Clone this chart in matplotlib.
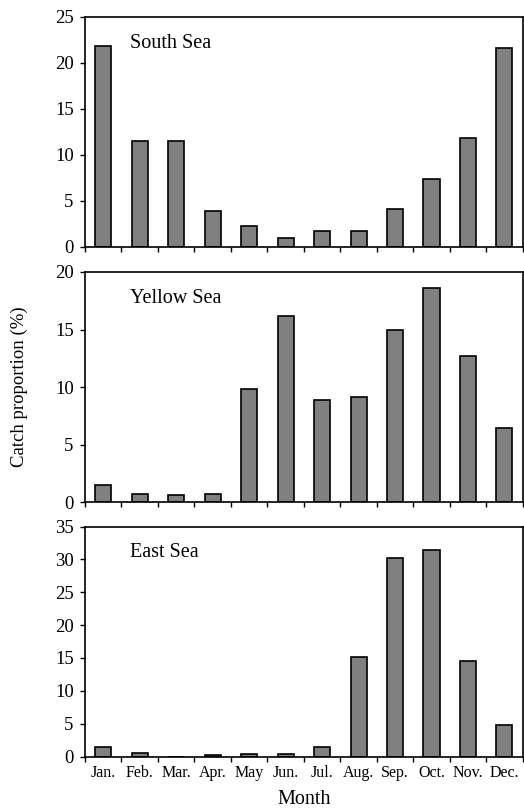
import matplotlib.pyplot as plt
import numpy as np

plt.rcParams['font.family'] = ['Liberation Serif', 'DejaVu Serif']

months = ['Jan.', 'Feb.', 'Mar.', 'Apr.', 'May', 'Jun.', 'Jul.', 'Aug.', 'Sep.', 'Oct.', 'Nov.', 'Dec.']
south = [21.8, 11.5, 11.5, 3.9, 2.2, 0.9, 1.7, 1.7, 4.1, 7.4, 11.8, 21.6]
yellow = [1.45, 0.72, 0.58, 0.72, 9.8, 16.2, 8.9, 9.1, 15.0, 18.6, 12.7, 6.4]
east = [1.4, 0.6, 0.0, 0.2, 0.4, 0.4, 1.5, 15.1, 30.2, 31.5, 14.5, 4.8]
names = ['South Sea', 'Yellow Sea', 'East Sea']
ymax = [25, 20, 35]
series = [south, yellow, east]

fig = plt.figure(figsize=(5.24, 8.10), dpi=100)
bottoms = [0.6954, 0.3802, 0.066]
x = np.arange(len(months))

for i in range(3):
    ax = fig.add_axes([0.1622, bottoms[i], 0.8353, 0.284])
    ax.bar(x, series[i], width=0.44, color='#808080', edgecolor='black', linewidth=1.2)
    ax.set_xlim(-0.5, 11.5)
    ax.set_ylim(0, ymax[i])
    ax.set_yticks(np.arange(0, ymax[i] + 1, 5))
    ax.tick_params(axis='y', direction='out', length=3.6, width=1, labelsize=13.5, pad=4.5)
    ax.set_xticks(x)
    ax.set_xticks(np.arange(-0.5, 12, 1), minor=True)
    ax.tick_params(axis='x', which='major', length=0, pad=6, labelsize=11.5)
    ax.tick_params(axis='x', which='minor', direction='out', length=3.6, width=1)
    if i == 2:
        ax.set_xticklabels(months)
    else:
        ax.set_xticklabels([])
    for s in ax.spines.values():
        s.set_linewidth(1.2)
    ax.text(0.103, 0.885, names[i], transform=ax.transAxes, fontsize=14.5, va='center', ha='left')

fig.text(19 / 524, 1 - 387 / 810, 'Catch proportion (%)', rotation=90, fontsize=13.5, va='center', ha='center')
fig.text(304 / 524, 1 - 799 / 810, 'Month', fontsize=14.5, va='center', ha='center')

fig.savefig('out.png', dpi=100)
